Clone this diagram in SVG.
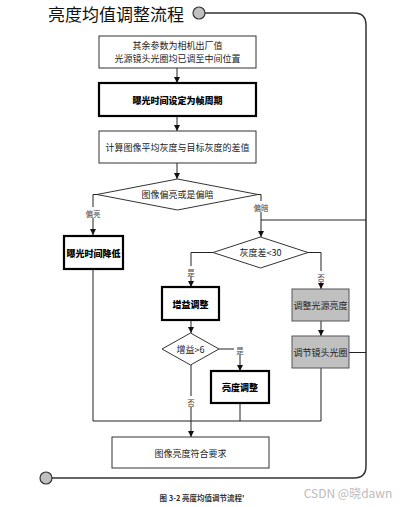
<svg xmlns="http://www.w3.org/2000/svg" width="409" height="507" viewBox="0 0 409 507">
<style>
text{font-family:"Noto Sans CJK SC","Liberation Sans",sans-serif;text-anchor:middle;dominant-baseline:central;fill:#222}
.box{fill:#fff;stroke:#333;stroke-width:1}
.bold{fill:#fff;stroke:#000;stroke-width:2.2}
.gray{fill:#c0c0c0;stroke:#555;stroke-width:1}
.t{font-size:9px}
.tb{font-size:9px;font-weight:900;fill:#000}
.lbl{font-size:7.5px;fill:#444}
.ln{fill:none;stroke:#222;stroke-width:1}
.ar{fill:none;stroke:#222;stroke-width:1;marker-end:url(#ah)}
.loop{fill:none;stroke:#333;stroke-width:1.5}
</style>
<defs>
<marker id="ah" viewBox="0 0 8 8" refX="8" refY="4" markerWidth="6" markerHeight="6" orient="auto" markerUnits="userSpaceOnUse">
<path d="M0,0 L8,4 L0,8 z" fill="#111"/>
</marker>
</defs>
<rect width="409" height="507" fill="#fff"/>
<g id="title">
<text x="116" y="13" style="font-size:17px;fill:#111">亮度均值调整流程</text>
</g>
<g id="loop">
<path class="loop" d="M205,13 H354 Q366,13 366,25 V466 Q366,478 354,478 H52"/>
<circle cx="199" cy="13" r="6" fill="#c0c0c0" stroke="#333" stroke-width="1.2"/>
<circle cx="46" cy="478" r="6" fill="#c0c0c0" stroke="#333" stroke-width="1.2"/>
</g>
<g id="connectors">
<line class="ar" x1="177" y1="68" x2="177" y2="83"/>
<line class="ar" x1="177" y1="116" x2="177" y2="131"/>
<line class="ar" x1="177" y1="163" x2="177" y2="179"/>
<path class="ar" d="M97,194.5 H93 V235"/>
<path class="ar" d="M258,194.5 H261 V237"/>
<path class="ln" d="M261,220 H366"/>
<path class="ar" d="M213,252.5 H191 V287"/>
<path class="ar" d="M308,252.5 H321 V289"/>
<line class="ar" x1="321" y1="321" x2="321" y2="336"/>
<path class="ln" d="M349,352.5 H366"/>
<line class="ar" x1="191" y1="320" x2="191" y2="333"/>
<path class="ar" d="M219,349 H240 V371"/>
<line class="ar" x1="191" y1="365" x2="191" y2="437"/>
<path class="ln" d="M93,269 V421 H321 V368"/>
<path class="ln" d="M240,403 V421"/>
<rect x="84" y="207" width="18" height="11" fill="#fff"/>
<text class="lbl" x="93" y="213">偏亮</text>
<rect x="252" y="201" width="18" height="11" fill="#fff"/>
<text class="lbl" x="261" y="207">偏暗</text>
<rect x="185" y="266" width="12" height="11" fill="#fff"/>
<text class="lbl" x="191" y="272">是</text>
<rect x="315" y="271" width="12" height="11" fill="#fff"/>
<text class="lbl" x="321" y="277">否</text>
<rect x="234" y="344" width="12" height="11" fill="#fff"/>
<text class="lbl" x="240" y="350">是</text>
<rect x="185" y="396" width="12" height="11" fill="#fff"/>
<text class="lbl" x="191" y="402">否</text>
</g>
<g id="n1">
<rect class="box" x="99" y="36" width="157" height="32"/>
<text class="t" x="177.5" y="45.5">其余参数为相机出厂值</text>
<text class="t" x="177.5" y="58.5">光源镜头光圈均已调至中间位置</text>
</g>
<g id="n2">
<rect class="bold" x="99" y="83" width="157" height="33"/>
<text class="tb" x="177.5" y="100">曝光时间设定为帧周期</text>
</g>
<g id="n3">
<rect class="box" x="99" y="131" width="157" height="32"/>
<text class="t" x="177.5" y="147">计算图像平均灰度与目标灰度的差值</text>
</g>
<g id="d1">
<polygon class="box" points="177.5,179 258,194.5 177.5,210 97,194.5"/>
<text class="t" x="177.5" y="194.5">图像偏亮或是偏暗</text>
</g>
<g id="n4">
<rect class="bold" x="64" y="236" width="59" height="33"/>
<text class="tb" x="93.5" y="253">曝光时间降低</text>
</g>
<g id="d2">
<polygon class="box" points="260.5,237 308,252.5 260.5,268 213,252.5"/>
<text class="t" x="260.5" y="252.5">灰度差&lt;30</text>
</g>
<g id="n5">
<rect class="bold" x="162" y="287" width="57" height="33"/>
<text class="tb" x="190.5" y="304">增益调整</text>
</g>
<g id="n6">
<rect class="gray" x="292" y="289" width="57" height="32"/>
<text class="t" x="320.5" y="305">调整光源亮度</text>
</g>
<g id="n7">
<rect class="gray" x="292" y="336" width="57" height="32"/>
<text class="t" x="320.5" y="352.5">调节镜头光圈</text>
</g>
<g id="d3">
<polygon class="box" points="190.5,333 219,349 190.5,365 162,349"/>
<text class="t" x="190.5" y="349">增益&gt;6</text>
</g>
<g id="n8">
<rect class="bold" x="211" y="371" width="58" height="32"/>
<text class="tb" x="240" y="387.5">亮度调整</text>
</g>
<g id="n9">
<rect class="box" x="112" y="437" width="157" height="31"/>
<text class="t" x="190.5" y="453">图像亮度符合要求</text>
</g>
<g id="caption">
<text x="202" y="497.5" style="font-size:7.5px;font-weight:bold;fill:#333">图  3-2 亮度均值调节流程'</text>
<text x="348" y="492" style="font-size:12px;fill:#bbb">CSDN @晓dawn</text>
</g>
</svg>
